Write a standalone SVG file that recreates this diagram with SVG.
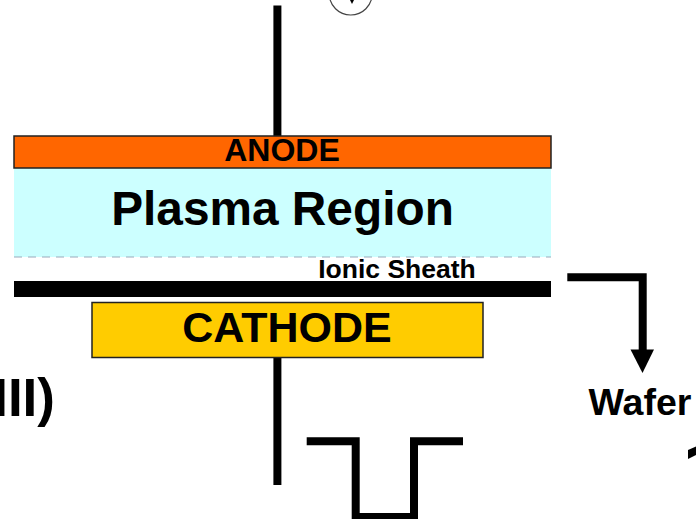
<svg xmlns="http://www.w3.org/2000/svg" width="696" height="519" viewBox="0 0 696 519">
<style>
text{font-family:"Liberation Sans",Arial,sans-serif;font-weight:700;fill:#000}
.wire{fill:none;stroke:#000;stroke-width:8}
.box{stroke:#222;stroke-width:1.5}
</style>
<rect width="696" height="519" fill="#fff"/>
<g id="connectors">
<path class="wire" d="M277.400 5.500V136"/>
<path class="wire" d="M277.400 355V485"/>
<path class="wire" d="M306.700 441.300H355.700V517H414V441.300H463"/>
<path class="wire" d="M567.300 277.300H642.700V350"/>
<polygon points="630.500,349.500 654,349.500 642.500,373"/>
<polygon points="688,450 696,446.500 696,455 688,459"/>
</g>
<g id="source"><circle cx="350.700" cy="-6.500" r="21.500" fill="#fff" stroke="#444" stroke-width="1.200"/><path d="M350 0h4l-2 4z"/></g>
<g id="plasma"><rect x="14" y="168" width="537" height="89" fill="#cff"/><path d="M14 257H551" stroke="#9ab" stroke-width="1" stroke-dasharray="8 6"/><text x="282.500" y="225" font-size="47.800" text-anchor="middle">Plasma Region</text></g>
<g id="anode"><rect class="box" x="14" y="136" width="537" height="32" fill="#f60"/><text x="282" y="161" font-size="32" text-anchor="middle">ANODE</text></g>
<g id="sheath"><text x="397" y="278" font-size="26.500" text-anchor="middle">Ionic Sheath</text></g>
<g id="wafer-bar"><rect x="14" y="281" width="537" height="16"/></g>
<g id="cathode"><rect class="box" x="92" y="302.500" width="391" height="55" fill="#fc0"/><text x="287" y="342" font-size="43" text-anchor="middle">CATHODE</text></g>
<g id="wafer-label"><text x="640" y="415" font-size="37.500" text-anchor="middle">Wafer</text></g>
<g id="fragment"><text x="55" y="415.500" font-size="53" text-anchor="end">III)</text></g>
</svg>
